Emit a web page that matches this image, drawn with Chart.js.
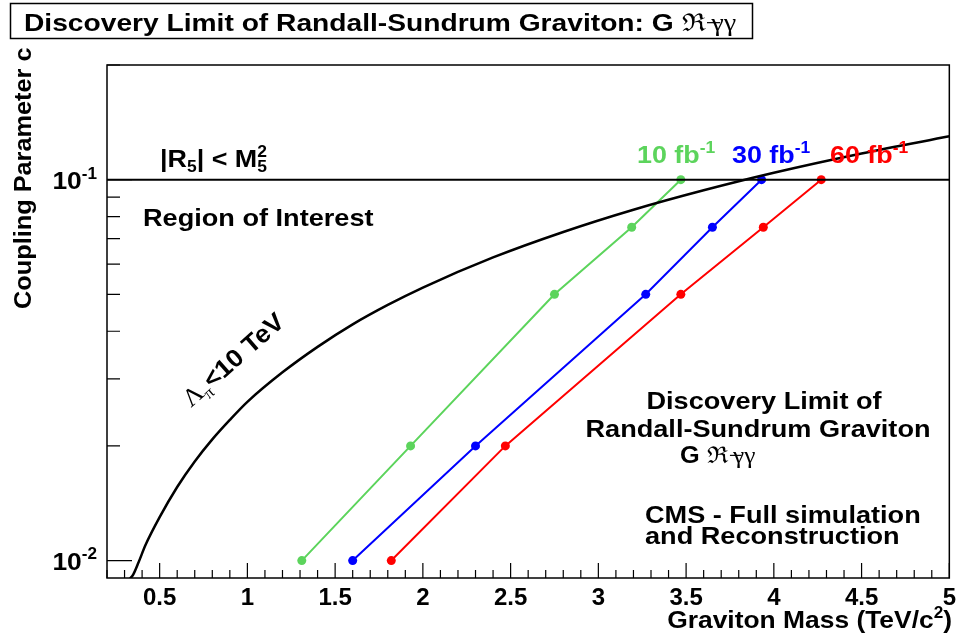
<!DOCTYPE html>
<html>
<head>
<meta charset="utf-8">
<script src="https://cdn.jsdelivr.net/npm/chart.js@4.4.1/dist/chart.umd.min.js"></script>
<style>
  html, body { margin: 0; padding: 0; background: #fff; }
  canvas { display: block; }
</style>
</head>
<body>
<canvas id="grafico-graviton" width="962" height="639"></canvas>
<script>
// Acoplamiento c de cada punto de descubrimiento
const acoplamientos = [0.01, 0.02, 0.05, 0.075, 0.1];
// Masa del gravitón (TeV/c^2) para cada luminosidad
const masa10fb = [1.31, 1.93, 2.75, 3.19, 3.47];
const masa30fb = [1.60, 2.30, 3.27, 3.65, 3.93];
const masa60fb = [1.82, 2.47, 3.47, 3.94, 4.27];

// Curva Lambda_pi < 10 TeV
const curvaMasa = [0.30, 0.32, 0.35, 0.38, 0.42, 0.5, 0.6, 0.7, 0.8, 0.9, 1.0, 1.2, 1.4,
                   1.6, 1.8, 2.0, 2.4, 2.8, 3.2, 3.6, 4.0, 4.5, 5.0];
const curvaAcoplamiento = [0.0083, 0.0088, 0.0092, 0.0099, 0.0110, 0.0130, 0.0156, 0.0182, 0.0208, 0.0234, 0.0261, 0.0312, 0.0364,
                           0.0417, 0.0469, 0.0521, 0.0625, 0.0729, 0.0834, 0.0938, 0.1043, 0.1172, 0.1300];

// Límite |R5| < M5^2
const limiteMasa = [0.2, 5];
const limiteAcoplamiento = [0.1, 0.1];

// Marcas de los ejes
const etiquetasX = [0.5, 1, 1.5, 2, 2.5, 3, 3.5, 4, 4.5, 5];
const marcasY = [0.01, 0.02, 0.03, 0.04, 0.05, 0.06, 0.07, 0.08, 0.09, 0.1, 0.2];
const etiquetasY = [0.01, 0.1];
const exponentesY = ['-2', '-1'];

const VERDE = '#5cd45c';
const AZUL = '#0000ff';
const ROJO = '#ff0000';
const SANS = '"Liberation Sans", Arial, Helvetica, sans-serif';
const SERIF = '"Liberation Serif", "DejaVu Serif", serif';

function puntos(xs, ys) {
    return xs.map((x, i) => ({ x: x, y: ys[i] }));
}

// Texto con subíndices / superíndices, al estilo de ROOT
function fuente(p, size) {
    const s = (p.sup || p.sub) ? size * 0.65 : size;
    return p.serif ? s + 'px ' + SERIF : 'bold ' + s + 'px ' + SANS;
}
function texto(ctx, x, y, partes, o) {
    const size = o.size;
    let ancho = 0;
    partes.forEach(p => {
        ctx.font = fuente(p, size);
        if (!p.sinAvance) ancho += ctx.measureText(p.t).width + (p.kern || 0);
    });
    ctx.save();
    ctx.translate(x, y);
    if (o.rot) ctx.rotate(o.rot);
    ctx.scale(o.sx || 1, 1);
    let cx = o.align === 'center' ? -ancho / 2 : (o.align === 'right' ? -ancho : 0);
    ctx.fillStyle = o.color || '#000';
    ctx.textAlign = 'left';
    ctx.textBaseline = 'alphabetic';
    partes.forEach(p => {
        cx += p.kern || 0;
        ctx.font = fuente(p, size);
        const dy = p.sup ? -size * 0.42 : (p.sub ? size * 0.22 : 0);
        ctx.fillText(p.t, cx, dy);
        if (!p.sinAvance) cx += ctx.measureText(p.t).width;
    });
    ctx.restore();
}

const simbolo = [{ t: 'G ' }, { t: 'ℜ', serif: true }, { t: '−', serif: true }, { t: 'γ', serif: true, kern: -9 }, { t: 'γ', serif: true }];

const decoracion = {
    id: 'decoracion',
    afterDraw(chart) {
        const ctx = chart.ctx;
        const a = chart.chartArea;
        const ex = chart.scales.x;
        const ey = chart.scales.y;
        ctx.save();
        ctx.strokeStyle = '#000';

        // marco
        ctx.lineWidth = 1.5;
        ctx.strokeRect(a.left, a.top, a.right - a.left, a.bottom - a.top);

        // marcas hacia dentro, eje x
        ctx.lineWidth = 1.2;
        ctx.beginPath();
        ex.ticks.forEach(t => {
            const px = ex.getPixelForValue(t.value);
            const larga = etiquetasX.some(v => Math.abs(v - t.value) < 1e-6);
            ctx.moveTo(px, a.bottom);
            ctx.lineTo(px, a.bottom - (larga ? 15 : 8));
        });
        // eje y
        ey.ticks.forEach(t => {
            const py = ey.getPixelForValue(t.value);
            const larga = etiquetasY.indexOf(t.value) >= 0;
            ctx.moveTo(a.left, py);
            ctx.lineTo(a.left + (larga ? 25 : 13), py);
        });
        ctx.stroke();

        // etiquetas del eje y: 10^-2, 10^-1
        etiquetasY.forEach((v, i) => {
            const py = ey.getPixelForValue(v);
            texto(ctx, 97, py + 9, [{ t: '10' }, { t: exponentesY[i], sup: true }], { size: 24, align: 'right', sx: 1.1 });
        });

        // títulos de los ejes
        texto(ctx, 952, 628, [{ t: 'Graviton Mass (TeV/c' }, { t: '2', sup: true }, { t: ')' }], { size: 24, align: 'right', sx: 1.1 });
        texto(ctx, 31, 309, [{ t: 'Coupling Parameter c' }], { size: 23, rot: -Math.PI / 2, sx: 1.1 });

        // título en caja
        ctx.lineWidth = 1.5;
        ctx.strokeRect(10.5, 3.5, 742, 35);
        texto(ctx, 24, 31, [{ t: 'Discovery Limit of Randall-Sundrum Graviton: ' }].concat(simbolo), { size: 24.5, sx: 1.15 });

        // anotaciones
        texto(ctx, 160, 167, [{ t: '|R' }, { t: '5', sub: true }, { t: '| < M' }, { t: '5', sub: true, sinAvance: true }, { t: '2', sup: true }], { size: 24, sx: 1.12 });
        texto(ctx, 143, 226, [{ t: 'Region of Interest' }], { size: 24, sx: 1.13 });
        texto(ctx, 637, 163, [{ t: '10 fb' }, { t: '-1', sup: true }], { size: 24, sx: 1.12, color: VERDE });
        texto(ctx, 732, 163, [{ t: '30 fb' }, { t: '-1', sup: true }], { size: 24, sx: 1.12, color: AZUL });
        texto(ctx, 830, 163, [{ t: '60 fb' }, { t: '-1', sup: true }], { size: 24, sx: 1.12, color: ROJO });
        texto(ctx, 191, 408, [{ t: 'Λ', serif: true }, { t: 'π', serif: true, sub: true }, { t: '<10 TeV' }], { size: 25, sx: 1.06, rot: -41.5 * Math.PI / 180 });
        texto(ctx, 764, 409, [{ t: 'Discovery Limit of' }], { size: 24, sx: 1.13, align: 'center' });
        texto(ctx, 758, 437, [{ t: 'Randall-Sundrum Graviton' }], { size: 24, sx: 1.13, align: 'center' });
        texto(ctx, 680, 463, simbolo, { size: 23, sx: 1.1 });
        texto(ctx, 645, 523, [{ t: 'CMS - Full simulation' }], { size: 24, sx: 1.13 });
        texto(ctx, 645, 544, [{ t: 'and Reconstruction' }], { size: 24, sx: 1.13 });
        ctx.restore();
    }
};

function serie(etiqueta, xs, color) {
    return {
        label: etiqueta,
        data: puntos(xs, acoplamientos),
        borderColor: color,
        backgroundColor: color,
        borderWidth: 2,
        pointRadius: 4.5,
        pointBorderWidth: 0,
        pointBackgroundColor: color,
        tension: 0
    };
}

document.addEventListener('DOMContentLoaded', function() {
    const ctx = document.getElementById('grafico-graviton').getContext('2d');
    new Chart(ctx, {
        type: 'line',
        data: {
            datasets: [
                {
                    label: 'Lambda_pi < 10 TeV',
                    data: puntos(curvaMasa, curvaAcoplamiento),
                    borderColor: '#000',
                    borderWidth: 2.5,
                    pointRadius: 0,
                    cubicInterpolationMode: 'monotone'
                },
                {
                    label: '|R5| < M5^2',
                    data: puntos(limiteMasa, limiteAcoplamiento),
                    borderColor: '#000',
                    borderWidth: 2,
                    pointRadius: 0
                },
                serie('10 fb-1', masa10fb, VERDE),
                serie('30 fb-1', masa30fb, AZUL),
                serie('60 fb-1', masa60fb, ROJO)
            ]
        },
        options: {
            responsive: false,
            animation: false,
            layout: { padding: { top: 65, right: 8, left: 0, bottom: 0 } },
            plugins: { legend: { display: false }, tooltip: { enabled: false } },
            scales: {
                x: {
                    type: 'linear',
                    min: 0.2,
                    max: 5,
                    grid: { display: false, drawTicks: false },
                    border: { display: false },
                    afterBuildTicks: function(escala) {
                        const marcas = [];
                        for (let i = 2; i <= 50; i++) marcas.push({ value: i / 10 });
                        escala.ticks = marcas;
                    },
                    afterFit: function(escala) { escala.height = 61; },
                    ticks: {
                        autoSkip: false,
                        maxRotation: 0,
                        minRotation: 0,
                        padding: 6,
                        color: '#000',
                        font: { family: SANS, size: 24, weight: 'bold' },
                        callback: function(v) {
                            return etiquetasX.some(e => Math.abs(e - v) < 1e-6) ? String(Math.round(v * 10) / 10) : '';
                        }
                    }
                },
                y: {
                    type: 'logarithmic',
                    min: 0.009,
                    max: 0.2,
                    grid: { display: false, drawTicks: false },
                    border: { display: false },
                    afterBuildTicks: function(escala) {
                        escala.ticks = marcasY.map(v => ({ value: v }));
                    },
                    afterFit: function(escala) { escala.width = 107; },
                    ticks: { display: false }
                }
            }
        },
        plugins: [decoracion]
    });
});
</script>
</body>
</html>
